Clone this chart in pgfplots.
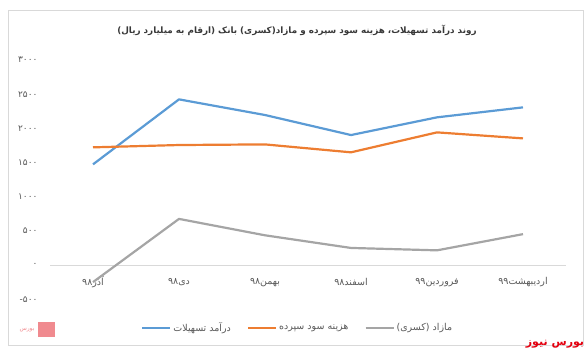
\documentclass[border=0pt]{standalone}
\usepackage{pgfplots}
\pgfplotsset{compat=1.18}
\usepackage{fontspec}
\newfontfamily\fa[Script=Arabic]{DejaVu Sans}
\TeXXeTstate=1
\definecolor{cblue}{HTML}{5B9BD5}
\definecolor{corange}{HTML}{ED7D31}
\definecolor{cgray}{HTML}{A5A5A5}
\definecolor{ctext}{HTML}{595959}
\definecolor{cframe}{HTML}{D9D9D9}
\definecolor{cred}{HTML}{E3000F}
\definecolor{cpink}{HTML}{F08A8F}
\begin{document}
\begin{tikzpicture}[x=1pt,y=1pt]
\path[use as bounding box] (0,0) rectangle (588,354);
\draw[cframe, line width=0.8pt] (8.5,9) rectangle (583.5,344);
\node[font=\fa\bfseries\fontsize{8.8}{11}\selectfont, text=black!78] at (297,324) {\beginR روند درآمد تسهیلات، هزینه سود سپرده و مازاد(کسری) بانک (ارقام به میلیارد ریال)\endR};
\begin{axis}[
  at={(50pt,54.8pt)}, anchor=south west,
  scale only axis, width=516pt, height=239.2pt,
  xmin=-0.5, xmax=5.5, ymin=-500, ymax=3000,
  axis line style={draw=none}, tick style={draw=none},
  xtick={0,1,2,3,4,5},
  xticklabels={{\beginR آذر۹۸\endR},{\beginR دی۹۸\endR},{\beginR بهمن۹۸\endR},{\beginR اسفند۹۸\endR},{\beginR فروردین۹۹\endR},{\beginR اردیبهشت۹۹\endR}},
  xticklabel style={anchor=center, yshift=17pt, font=\fa\fontsize{9.5}{10}\selectfont, text=ctext},
  ytick={-500,0,500,1000,1500,2000,2500,3000},
  yticklabels={۵۰۰-,۰,۵۰۰,۱۰۰۰,۱۵۰۰,۲۰۰۰,۲۵۰۰,۳۰۰۰},
  yticklabel style={anchor=east, xshift=-9pt, font=\fa\fontsize{9}{10}\selectfont, text=ctext},
  extra y ticks={0}, extra y tick labels={},
  extra y tick style={grid=major, major grid style={draw=cframe, line width=0.9pt}},
  legend style={at={(0.48,-0.12)}, anchor=center, draw=none, fill=none,
    legend columns=3, font=\fa\fontsize{9.5}{10}\selectfont, text=ctext,
    /tikz/every even column/.append style={column sep=14pt}},
  legend image code/.code={\draw[#1] (0pt,0pt) -- (28pt,0pt);},
]
\addplot[cblue, line width=2.2pt, line join=round] coordinates {(0,1473) (1,2424) (2,2195) (3,1902) (4,2161) (5,2307)};
\addlegendentry{\beginR درآمد تسهیلات\endR}
\addplot[corange, line width=2.2pt, line join=round] coordinates {(0,1722) (1,1756) (2,1765) (3,1649) (4,1941) (5,1853)};
\addlegendentry{\beginR هزینه سود سپرده\endR}
\addplot[cgray, line width=2.2pt, line join=round] coordinates {(0,-250) (1,675) (2,435) (3,250) (4,215) (5,452)};
\addlegendentry{\beginR مازاد (کسری)\endR}
\end{axis}
\node[font=\fa\bfseries\fontsize{11}{12}\selectfont, text=cred] at (555,9.5) {\beginR بورس نیوز\endR};
\fill[cpink] (38,17) rectangle (55,32);
\node[font=\fa\fontsize{6}{7}\selectfont, text=cpink] at (27,24) {\beginR بورس\endR};
\end{tikzpicture}
\end{document}
